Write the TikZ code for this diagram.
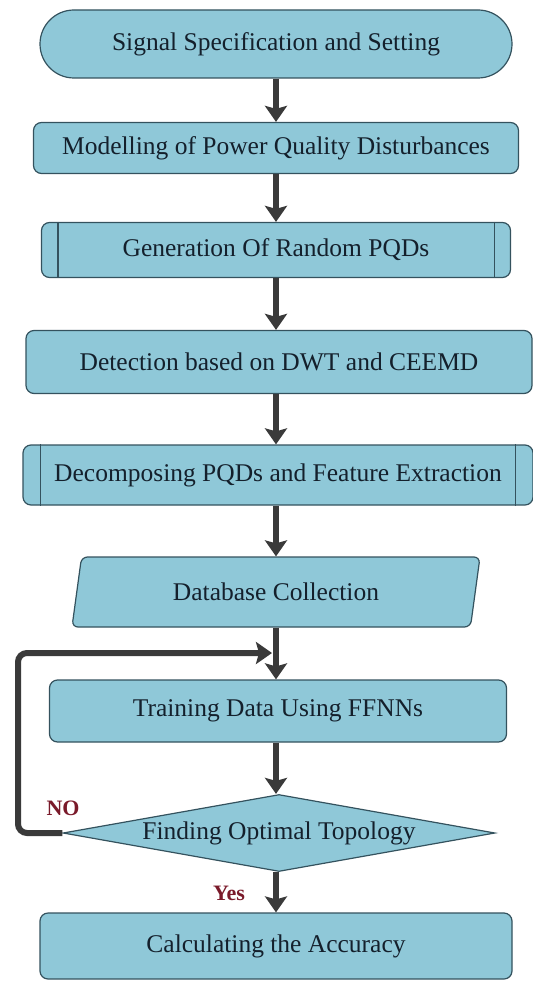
\documentclass[tikz,border=0pt]{standalone}
\usepackage{fontspec}
\setmainfont{Liberation Serif}
\usepackage{tikz}
\usetikzlibrary{arrows.meta,shapes.geometric,shapes.misc,positioning,calc}
\definecolor{boxfill}{HTML}{8FC8D8}
\definecolor{boxline}{HTML}{34525E}
\definecolor{flowgray}{HTML}{3A3A3A}
\definecolor{txtdark}{HTML}{14202C}
\definecolor{lbldark}{HTML}{7A1A2A}
\tikzset{
  stage/.style={draw=boxline, line width=1.2pt, fill=boxfill, text=txtdark,
    font=\fontsize{25.5}{30}\selectfont, inner sep=0pt},
  procbox/.style={stage, rectangle, rounded corners=8pt},
  flow/.style={draw=flowgray, line width=6pt,
    -{Stealth[width=22pt,length=16pt,inset=3pt]}},
  answer/.style={text=lbldark, font=\fontsize{22}{24}\selectfont\bfseries}
}

\begin{document}
\begin{tikzpicture}[x=1pt, y=-1pt]
    \useasboundingbox (0,0) rectangle (532,981);

    % Flow stages
    \node[stage, rounded rectangle, minimum width=472pt, minimum height=68pt] (sig) at (276,44) {Signal Specification and Setting};
    \node[procbox, minimum width=485pt, minimum height=51pt] (model) at (276,148) {Modelling of Power Quality Disturbances};
    \node[procbox, minimum width=469pt, minimum height=55pt] (gen) at (276,250) {Generation Of Random PQDs};
    \node[procbox, minimum width=506pt, minimum height=63pt] (detect) at (279,362) {Detection based on DWT and CEEMD};
    \node[procbox, minimum width=510pt, minimum height=60pt] (decomp) at (278,475) {Decomposing PQDs and Feature Extraction};
    \node[stage, trapezium, trapezium left angle=62, trapezium right angle=118, trapezium stretches body,
        rounded corners=6pt, minimum width=408pt, minimum height=70pt] (dbase) at (276,592) {Database Collection};
    \node[procbox, minimum width=457pt, minimum height=62pt] (train) at (278,711) {Training Data Using FFNNs};
    \node[stage, diamond, aspect=5.6, minimum width=432pt, minimum height=77pt] (topo) at (279,833) {Finding Optimal Topology};
    \node[procbox, minimum width=472pt, minimum height=66pt] (acc) at (276,946) {Calculating the Accuracy};

    % Sub-process side bars
    \foreach \n/\d in {gen/17, decomp/18} {
        \draw[boxline, line width=1.2pt] ([xshift=\d pt]\n.north west) -- ([xshift=\d pt]\n.south west);
        \draw[boxline, line width=1.2pt] ([xshift=-\d pt]\n.north east) -- ([xshift=-\d pt]\n.south east);
    }

    % Arrows between stages
    \coordinate (axis) at (276,0);
    \draw[flow] (sig.south) -- (model.north -| axis);
    \draw[flow] (model.south -| axis) -- (gen.north -| axis);
    \draw[flow] (gen.south -| axis) -- (detect.north -| axis);
    \draw[flow] (detect.south -| axis) -- (decomp.north -| axis);
    \draw[flow] (decomp.south -| axis) -- (dbase.north -| axis);
    \draw[flow] (dbase.south -| axis) -- (train.north -| axis);
    \draw[flow] (train.south -| axis) -- (topo.north -| axis);
    \draw[flow] (topo.south -| axis) -- (acc.north -| axis);

    % Feedback loop
    \coordinate (back) at (18,0);
    \coordinate (join) at (272,653);
    \draw[flow, rounded corners=9pt] (topo.west) -- (topo.west -| back) |- (join);

    \node[answer] (no) at (63,808) {NO};
    \node[answer] (yes) at (229,893) {Yes};
\end{tikzpicture}
\end{document}
